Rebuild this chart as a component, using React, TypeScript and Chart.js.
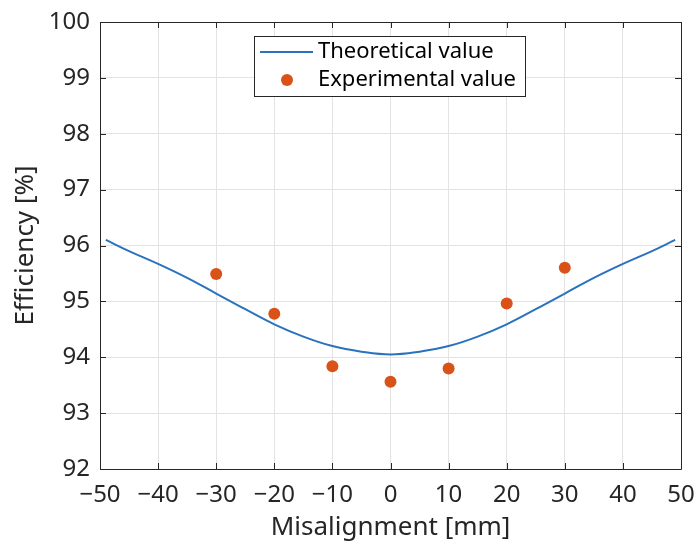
import React, { useEffect, useRef } from "react";
import { Chart, registerables } from "chart.js";

Chart.register(...registerables);

const theoryX = [-49, -45, -40, -35, -30, -25, -20, -15, -10, -5, 0, 5, 10, 15, 20, 25, 30, 35, 40, 45, 49];
const theoryY = [96.1, 95.9, 95.67, 95.42, 95.14, 94.86, 94.59, 94.37, 94.2, 94.1, 94.05, 94.1, 94.2, 94.37, 94.59, 94.86, 95.14, 95.42, 95.67, 95.9, 96.1];
const expX = [-30, -20, -10, 0, 10, 20, 30];
const expY = [95.49, 94.78, 93.84, 93.56, 93.8, 94.96, 95.6];
const xTicks = [-50, -40, -30, -20, -10, 0, 10, 20, 30, 40, 50];
const yTicks = [92, 93, 94, 95, 96, 97, 98, 99, 100];

const FONT = "'Noto Sans', 'Noto Sans CJK JP', sans-serif";
const AXIS = "#262626";
const BLUE = "#2a72bd";
const ORANGE = "#D95319";

const boxPlugin = {
  id: "boxTicks",
  afterDatasetsDraw(chart: any) {
    const { ctx, chartArea: a, scales } = chart;
    ctx.save();
    ctx.strokeStyle = AXIS;
    ctx.lineWidth = 1;
    ctx.beginPath();
    ctx.rect(Math.round(a.left) + 0.5, Math.round(a.top) + 0.5, Math.round(a.right - a.left), Math.round(a.bottom - a.top));
    ctx.stroke();
    const tl = 6;
    ctx.beginPath();
    for (const v of xTicks) {
      const x = Math.round(scales.x.getPixelForValue(v)) + 0.5;
      ctx.moveTo(x, a.bottom); ctx.lineTo(x, a.bottom - tl);
      ctx.moveTo(x, a.top); ctx.lineTo(x, a.top + tl);
    }
    for (const v of yTicks) {
      const y = Math.round(scales.y.getPixelForValue(v)) + 0.5;
      ctx.moveTo(a.left, y); ctx.lineTo(a.left + tl, y);
      ctx.moveTo(a.right, y); ctx.lineTo(a.right - tl, y);
    }
    ctx.stroke();
    ctx.restore();
  },
  afterDraw(chart: any) {
    const { ctx } = chart;
    const ds = chart.data.datasets;
    const L = 254, T = 36, R = 525, B = 96;
    ctx.save();
    ctx.fillStyle = "#ffffff";
    ctx.fillRect(L, T, R - L, B - T);
    ctx.strokeStyle = "#262626";
    ctx.lineWidth = 1;
    ctx.strokeRect(L + 0.5, T + 0.5, R - L, B - T);
    ctx.font = `22px ${FONT}`;
    ctx.textBaseline = "middle";
    ctx.fillStyle = "#000000";
    ctx.strokeStyle = ds[0].borderColor;
    ctx.lineWidth = 2;
    ctx.beginPath();
    ctx.moveTo(260, 52); ctx.lineTo(313, 52);
    ctx.stroke();
    ctx.fillText(ds[0].label, 318, 52);
    ctx.fillStyle = ds[1].backgroundColor;
    ctx.beginPath();
    ctx.arc(287, 80, 6, 0, Math.PI * 2);
    ctx.fill();
    ctx.fillStyle = "#000000";
    ctx.fillText(ds[1].label, 318, 80);
    ctx.restore();
  },
};

export default function App() {
  const ref = useRef<HTMLCanvasElement | null>(null);
  useEffect(() => {
    document.body.style.margin = "0";
    const canvas = ref.current!;
    const chart = new Chart(canvas, {
      type: "scatter",
      data: {
        datasets: [
          {
            label: "Theoretical value",
            type: "line",
            data: theoryX.map((x, i) => ({ x, y: theoryY[i] })),
            borderColor: BLUE,
            backgroundColor: BLUE,
            borderWidth: 2,
            pointRadius: 0,
            tension: 0.4,
            fill: false,
          } as any,
          {
            label: "Experimental value",
            data: expX.map((x, i) => ({ x, y: expY[i] })),
            backgroundColor: ORANGE,
            borderColor: ORANGE,
            pointRadius: 6,
            pointBorderWidth: 0,
          },
        ],
      },
      options: {
        responsive: false,
        animation: false,
        layout: { padding: { top: 22, right: 17, left: 0, bottom: 0 } },
        plugins: { legend: { display: false }, tooltip: { enabled: false } },
        scales: {
          x: {
            type: "linear",
            min: -50,
            max: 50,
            afterBuildTicks: (s: any) => { s.ticks = xTicks.map((v) => ({ value: v })); },
            afterFit: (s: any) => { s.height = 75; s.paddingLeft = 0; s.paddingRight = 0; },
            grid: { color: "#e3e3e3", drawTicks: false, lineWidth: 1 },
            border: { display: false },
            ticks: {
              color: AXIS,
              padding: 12,
              maxRotation: 0,
              font: { family: FONT, size: 24 },
              callback: (v: any) => String(v).replace("-", "\u2212"),
            },
            title: {
              display: true,
              text: "Misalignment [mm]",
              color: AXIS,
              font: { family: FONT, size: 26 },
              padding: { top: 0, bottom: 1 },
            },
          },
          y: {
            type: "linear",
            min: 92,
            max: 100,
            afterBuildTicks: (s: any) => { s.ticks = yTicks.map((v) => ({ value: v })); },
            afterFit: (s: any) => { s.width = 100; s.paddingTop = 0; s.paddingBottom = 0; },
            grid: { color: "#e3e3e3", drawTicks: false, lineWidth: 1 },
            border: { display: false },
            ticks: {
              color: AXIS,
              padding: 10,
              font: { family: FONT, size: 24 },
            },
            title: {
              display: true,
              text: "Efficiency [%]",
              color: AXIS,
              font: { family: FONT, size: 26 },
              padding: { top: 10, bottom: 0 },
            },
          },
        },
      },
      plugins: [boxPlugin],
    });
    return () => chart.destroy();
  }, []);
  return (
    <div style={{ width: 698, height: 544, background: "#ffffff" }}>
      <canvas ref={ref} width={698} height={544} style={{ display: "block" }} />
    </div>
  );
}
